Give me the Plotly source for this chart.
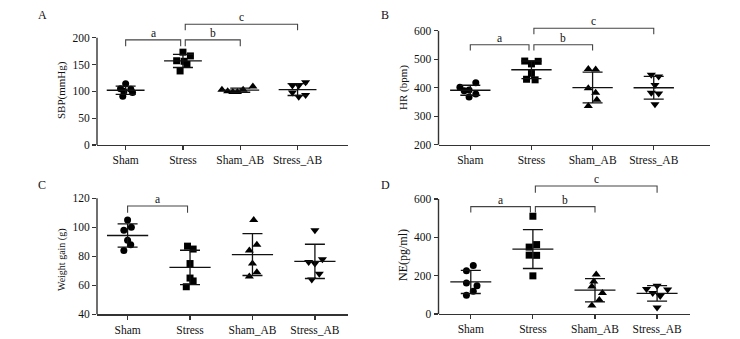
import numpy as np
import plotly.graph_objects as go

# ---------------- data ----------------
categories = ["Sham", "Stress", "Sham_AB", "Stress_AB"]

# Panel A: SBP (mmHg)
sbp_sham = [114, 105, 104, 100, 98, 91]
sbp_stress = [173, 166, 157, 156, 150, 138]
sbp_sham_ab = [103, 100, 99, 99, 103, 109]
sbp_stress_ab = [111, 111, 117, 98, 90, 93]

# Panel B: HR (bpm)
hr_sham = [418, 402, 392, 390, 378, 368]
hr_stress = [494, 493, 484, 451, 430, 428]
hr_sham_ab = [466, 464, 398, 383, 358, 336]
hr_stress_ab = [446, 440, 410, 383, 380, 342]

# Panel C: Weight gain (g)
wg_sham = [105, 100, 98, 91, 88, 84]
wg_stress = [87, 85, 75, 65, 63, 59]
wg_sham_ab = [105, 88, 84, 75, 69, 66]
wg_stress_ab = [98, 78, 76, 75, 68, 64]

# Panel D: NE (pg/ml)
ne_sham = [253, 225, 162, 147, 119, 98]
ne_stress = [510, 362, 349, 307, 306, 199]
ne_sham_ab = [206, 169, 144, 109, 73, 44]
ne_stress_ab = [148, 130, 128, 110, 94, 34]

sbp_ticks = [0, 50, 100, 150, 200]
hr_ticks = [200, 300, 400, 500, 600]
wg_ticks = [40, 60, 80, 100, 120]
ne_ticks = [0, 200, 400, 600]

# significance brackets: (group from, group to, top value, leg value, letter)
sbp_brackets = [(0, 1, 196, 184, "a"), (1, 2, 196, 184, "b"), (1, 3, 225, 214, "c")]
hr_brackets = [(0, 1, 551, 531, "a"), (1, 2, 551, 531, "b"), (1, 3, 609, 588, "c")]
wg_brackets = [(0, 1, 114.7, 110, "a")]
ne_brackets = [(0, 1, 560, 529, "a"), (1, 2, 560, 529, "b"), (1, 3, 668, 633, "c")]

# ---------------- style ----------------
FONT = "Liberation Serif"
INK = "#111111"
AX = "#333333"
SYMBOLS = ["circle", "square", "triangle-up", "triangle-down"]
MSIZE = [7, 7, 8, 8]

# horizontal scatter spread of the dots (category units)
jit_A = [[0, -0.09, 0.09, -0.03, 0.12, -0.05],
         [0, 0.13, -0.11, 0.02, 0.07, -0.05],
         [-0.32, -0.22, -0.13, -0.05, 0.05, 0.22],
         [-0.09, 0.02, 0.14, -0.09, 0.02, 0.14]]
jit_B = [[0.09, -0.17, -0.02, -0.1, 0.09, -0.02],
         [-0.11, 0.11, 0, 0, -0.08, 0.06],
         [-0.07, 0.05, -0.07, 0.05, 0.07, -0.07],
         [-0.04, 0.08, 0.02, -0.04, 0.08, 0.02]]
jit_C = [[0, 0.06, -0.06, 0, 0.05, -0.06],
         [-0.04, 0.05, 0, 0, 0.05, -0.06],
         [0.02, 0.07, -0.05, 0, 0.07, -0.05],
         [0, 0.12, -0.1, 0, 0.07, -0.05]]
jit_D = [[0.04, -0.07, -0.07, 0.1, 0.04, -0.07],
         [0, 0.06, -0.06, -0.06, 0.06, 0],
         [0.02, -0.02, -0.05, 0.12, 0.07, -0.05],
         [0, -0.17, 0.17, -0.07, 0.05, 0]]

W, H = 740, 339

panels = [
    dict(key="", label="A", title="SBP(mmHg)", title_size=11,
         groups=[sbp_sham, sbp_stress, sbp_sham_ab, sbp_stress_ab], jit=jit_A,
         ticks=sbp_ticks, brackets=sbp_brackets,
         xpx=(97, 348), xrange=[-0.5, 3.88], ypx=(145, 18.9), yrange=[0, 235],
         label_px=(42, 15), title_px=(62, 90)),
    dict(key="2", label="B", title="HR (bpm)", title_size=11,
         groups=[hr_sham, hr_stress, hr_sham_ab, hr_stress_ab], jit=jit_B,
         ticks=hr_ticks, brackets=hr_brackets,
         xpx=(438.5, 710), xrange=[-0.52, 3.92], ypx=(144.7, 19.5), yrange=[200, 640],
         label_px=(385, 15), title_px=(403, 88)),
    dict(key="3", label="C", title="Weight gain (g)", title_size=10,
         groups=[wg_sham, wg_stress, wg_sham_ab, wg_stress_ab], jit=jit_C,
         ticks=wg_ticks, brackets=wg_brackets,
         xpx=(97, 348), xrange=[-0.49, 3.53], ypx=(314.3, 198.3), yrange=[40, 120],
         label_px=(42, 185), title_px=(62, 260)),
    dict(key="4", label="D", title="NE(pg/ml)", title_size=12,
         groups=[ne_sham, ne_stress, ne_sham_ab, ne_stress_ab], jit=jit_D,
         ticks=ne_ticks, brackets=ne_brackets,
         xpx=(438.5, 690), xrange=[-0.52, 3.53], ypx=(314, 179.8), yrange=[0, 700],
         label_px=(385, 185), title_px=(403, 255)),
]

fig = go.Figure()
shapes = []
annotations = []
layout = {}

for p in panels:
    k = p["key"]
    xa, ya = "x" + k, "y" + k
    for gi, vals in enumerate(p["groups"]):
        vals = np.array(vals, dtype=float)
        xs = gi + np.array(p["jit"][gi])
        fig.add_trace(go.Scatter(
            x=xs, y=vals, mode="markers", xaxis=xa, yaxis=ya,
            marker=dict(symbol=SYMBOLS[gi], size=MSIZE[gi], color="#000000",
                        line=dict(width=0)),
            cliponaxis=False, showlegend=False, hoverinfo="skip"))
        m = vals.mean()
        sd = vals.std(ddof=1)
        # mean line
        fig.add_trace(go.Scatter(
            x=[gi - 0.33, gi + 0.33], y=[m, m], mode="lines", xaxis=xa, yaxis=ya,
            line=dict(color="#111111", width=1.3), showlegend=False, hoverinfo="skip"))
        # SD bar
        fig.add_trace(go.Scatter(
            x=[gi], y=[m], mode="markers", xaxis=xa, yaxis=ya,
            marker=dict(size=1, color="rgba(0,0,0,0)"),
            error_y=dict(type="data", array=[sd], symmetric=True, color="#111111",
                         thickness=1.3, width=10),
            showlegend=False, hoverinfo="skip"))
    # brackets
    for (g0, g1, top, leg, letter) in p["brackets"]:
        off0 = 0.04 if g0 == 1 else 0.0
        off1 = -0.04 if (g1 == 1 and g0 == 0) else 0.0
        x0, x1 = g0 + off0, g1 + off1
        fig.add_trace(go.Scatter(
            x=[x0, x0, x1, x1], y=[leg, top, top, leg], mode="lines",
            xaxis=xa, yaxis=ya, line=dict(color="#444444", width=1.1),
            showlegend=False, hoverinfo="skip"))
        annotations.append(dict(
            x=(x0 + x1) / 2, y=top, xref=xa, yref=ya, text=letter, showarrow=False,
            yanchor="bottom", yshift=-1, font=dict(family=FONT, size=11.5, color=INK)))

    xd = [p["xpx"][0] / W, p["xpx"][1] / W]
    yd = [(H - p["ypx"][0]) / H, (H - p["ypx"][1]) / H]
    axis_suffix = "" if k == "" else k
    layout["xaxis" + axis_suffix] = dict(
        domain=xd, range=p["xrange"], anchor=ya, tickmode="array",
        tickvals=list(range(len(categories))), ticktext=categories,
        showline=True, linecolor=AX, linewidth=1.4, ticks="outside", ticklen=4,
        tickcolor=AX, tickwidth=1.2, showgrid=False, zeroline=False,
        automargin=False,
        tickfont=dict(family=FONT, size=11.5, color=INK), fixedrange=True)
    layout["yaxis" + axis_suffix] = dict(
        domain=yd, range=p["yrange"], anchor=xa, tickmode="array",
        tickvals=p["ticks"], ticktext=[str(t) for t in p["ticks"]],
        showline=False, ticks="outside", ticklen=4, tickcolor=AX, tickwidth=1.2,
        showgrid=False, zeroline=False, automargin=False,
        tickfont=dict(family=FONT, size=11.5, color=INK), fixedrange=True)
    # y axis line only up to top tick
    r0, r1 = p["yrange"]
    ytop = yd[0] + (max(p["ticks"]) - r0) / (r1 - r0) * (yd[1] - yd[0])
    shapes.append(dict(type="line", xref="paper", yref="paper",
                       x0=xd[0], x1=xd[0], y0=yd[0], y1=ytop,
                       line=dict(color=AX, width=1.4)))
    # panel label
    annotations.append(dict(x=p["label_px"][0] / W, y=1 - p["label_px"][1] / H,
                            xref="paper", yref="paper", text=p["label"],
                            showarrow=False, xanchor="center", yanchor="middle",
                            font=dict(family=FONT, size=12, color=INK)))
    # y-axis title
    annotations.append(dict(x=p["title_px"][0] / W, y=1 - p["title_px"][1] / H,
                            xref="paper", yref="paper", text=p["title"],
                            textangle=-90, showarrow=False, xanchor="center",
                            yanchor="middle",
                            font=dict(family=FONT, size=p["title_size"], color=INK)))

fig.update_layout(
    width=W, height=H, margin=dict(l=0, r=0, t=0, b=0, autoexpand=False),
    paper_bgcolor="white", plot_bgcolor="white", hovermode=False,
    showlegend=False, shapes=shapes, annotations=annotations, **layout)

fig.write_html("out.html",
               config={"displayModeBar": False, "staticPlot": True},
               post_script="document.body.style.margin='0px';"
                           "document.body.style.overflow='hidden';")
